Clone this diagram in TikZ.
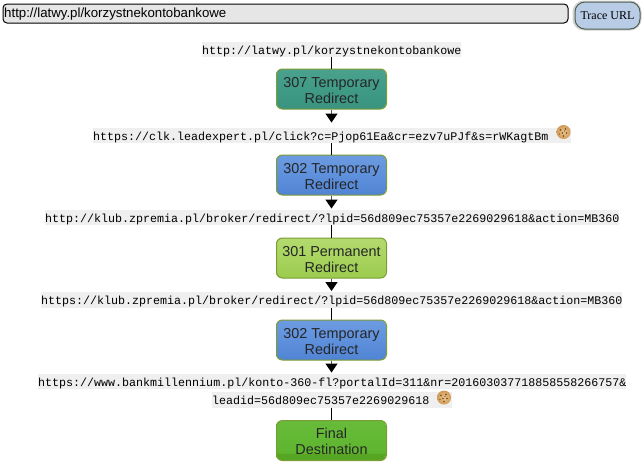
\documentclass[tikz,border=0pt]{standalone}
\usepackage{fontspec}
\setmainfont{Liberation Sans}
\newfontfamily\urlfont{Liberation Mono}
\newfontfamily\btnfont{Liberation Serif}
\usetikzlibrary{arrows.meta,shadings}
\definecolor{urlbg}{HTML}{EFEFEF}
\definecolor{inputbg}{HTML}{E6E6E6}
\definecolor{btnfill}{HTML}{B8CCE6}
\definecolor{btnedge}{HTML}{4F5F50}
\definecolor{edgeolive}{HTML}{7C9C34}
\definecolor{stub}{HTML}{4A5A50}
\definecolor{cookieA}{HTML}{EDC68E}\definecolor{cookieB}{HTML}{CF9A58}\definecolor{cookieD}{HTML}{6B4520}
\definecolor{tealA}{HTML}{55A896}\definecolor{tealB}{HTML}{3F9A86}\definecolor{tealC}{HTML}{338C78}
\definecolor{blueA}{HTML}{7BA6E4}\definecolor{blueB}{HTML}{5E90DC}\definecolor{blueC}{HTML}{4277C8}
\definecolor{limeA}{HTML}{BEDF7E}\definecolor{limeB}{HTML}{A8D45E}\definecolor{limeC}{HTML}{8EC23E}
\definecolor{grnA}{HTML}{6CBF42}\definecolor{grnB}{HTML}{5FB52E}\definecolor{grnC}{HTML}{56A624}
\pgfdeclareverticalshading{tealshade}{100bp}{color(0bp)=(tealC);color(50bp)=(tealB);color(100bp)=(tealA)}
\pgfdeclareverticalshading{blueshade}{100bp}{color(0bp)=(blueC);color(50bp)=(blueB);color(100bp)=(blueA)}
\pgfdeclareverticalshading{limeshade}{100bp}{color(0bp)=(limeC);color(50bp)=(limeB);color(100bp)=(limeA)}
\pgfdeclareverticalshading{grnshade}{100bp}{color(0bp)=(grnC);color(33bp)=(grnC);color(35bp)=(grnB);color(100bp)=(grnA)}
\newcommand{\lowerline}{\rule{0pt}{13pt}}
\tikzset{
  urlbox/.style={fill=urlbg,inner sep=0pt,minimum height=15.5pt,text height=10.6pt,text depth=1.4pt,anchor=west,align=left,
    font=\urlfont\fontsize{11.67}{14}\selectfont},
  statebox/.style={rectangle,rounded corners=6pt,draw=edgeolive,line width=1pt,
    minimum width=110pt,minimum height=40pt,inner sep=0pt,align=center,text=black!85,
    font=\fontsize{14.4}{16}\selectfont},
  hop/.style={color=stub,line width=1.2pt,shorten >=1pt,
    -{Triangle[length=9pt,width=12pt,color=black,fill=black]}},
  link/.style={draw=black,line width=1pt},
  cookie/.pic={
    \shade[inner color=cookieA,outer color=cookieB] (0,0) circle (7pt);
    \fill[cookieD] (-3,-2) circle (.8pt) (2,-3) circle (.8pt) (-1,1) circle (.8pt)
      (3,1) circle (.8pt) (0,4) circle (.8pt) (-4,2) circle (.7pt) (1,-1) circle (.7pt);
  }
}
\begin{document}
\begin{tikzpicture}[x=1pt,y=-1pt]
\useasboundingbox (0,0) rectangle (642,474);
% URL entry and button
\node[draw=black,line width=1pt,fill=inputbg,rounded corners=4pt,anchor=north west,
  minimum width=565pt,minimum height=19pt,inner sep=0pt] (input) at (2.5,3.5) {};
\node[anchor=west,inner sep=0pt,font=\fontsize{13.25}{16}\selectfont] (inputtext) at (4,14) {http://latwy.pl/korzystnekontobankowe};
\draw[black!18,line width=3pt,rounded corners=10pt] (574,2) rectangle (640,29);
\node[draw=btnedge,line width=1pt,fill=btnfill,rounded corners=10pt,anchor=north west,
  minimum width=65pt,minimum height=27pt,inner sep=0pt,font=\btnfont\fontsize{12}{14}\selectfont] (trace) at (574.5,1.5) {Trace URL};
% URLs
\node[urlbox,text width=259pt] (u1) at (202,49.5) {http://latwy.pl/korzystnekontobankowe};
\node[urlbox,text width=478pt] (u2) at (93,135.5) {https://clk.leadexpert.pl/click?c=Pjop61Ea\&cr=ezv7uPJf\&s=rWKagtBm};
\node[urlbox,text width=574pt] (u3) at (45,217.5) {http://klub.zpremia.pl/broker/redirect/?lpid=56d809ec75357e2269029618\&action=MB360};
\node[urlbox,text width=581pt] (u4) at (41,300) {https://klub.zpremia.pl/broker/redirect/?lpid=56d809ec75357e2269029618\&action=MB360};
\node[urlbox,text width=588pt] (u5) at (38,381.5) {https://www.bankmillennium.pl/konto-360-fl?portalId=311\&nr=201603037718858558266757\&};
\node[urlbox,text width=240pt] (u6) at (212,400) {leadid=56d809ec75357e2269029618};
\pic at (563.5,132) {cookie};
\pic at (444,397.5) {cookie};
% States
\shade[shading=tealshade,rounded corners=6pt] (276,69) rectangle (386,109);
\node[statebox] (s1) at (331.5,89) {\lowerline 307 Temporary\\Redirect};
\shade[shading=blueshade,rounded corners=6pt] (276,155) rectangle (386,195);
\node[statebox] (s2) at (331.5,175) {\lowerline 302 Temporary\\Redirect};
\shade[shading=limeshade,rounded corners=6pt] (276,238) rectangle (386,278);
\node[statebox] (s3) at (331.5,258) {\lowerline 301 Permanent\\Redirect};
\shade[shading=blueshade,rounded corners=6pt] (276,320) rectangle (386,360);
\node[statebox] (s4) at (331.5,340) {\lowerline 302 Temporary\\Redirect};
\shade[shading=grnshade,rounded corners=6pt] (276,420.5) rectangle (386,460.5);
\node[statebox] (s5) at (331.5,440.5) {\lowerline Final\\Destination};
% Connectors
\coordinate (a1) at (u2.north -| s1.south);
\coordinate (a2) at (u3.north -| s2.south);
\coordinate (a3) at (u4.north -| s3.south);
\coordinate (a4) at (u5.north -| s4.south);
\coordinate (b1) at (u1.south -| s1.north);
\coordinate (b2) at (u2.south -| s2.north);
\coordinate (b3) at (u3.south -| s3.north);
\coordinate (b4) at (u4.south -| s4.north);
\coordinate (b5) at (u6.south -| s5.north);
\draw[link] (b1) -- (s1.north);
\draw[link] (b2) -- (s2.north);
\draw[link] (b3) -- (s3.north);
\draw[link] (b4) -- (s4.north);
\draw[link] (b5) -- (s5.north);
\draw[hop,shorten >=5pt] (s1.south) -- (a1);
\draw[hop] (s2.south) -- (a2);
\draw[hop] (s3.south) -- (a3);
\draw[hop] (s4.south) -- (a4);
\end{tikzpicture}
\end{document}
